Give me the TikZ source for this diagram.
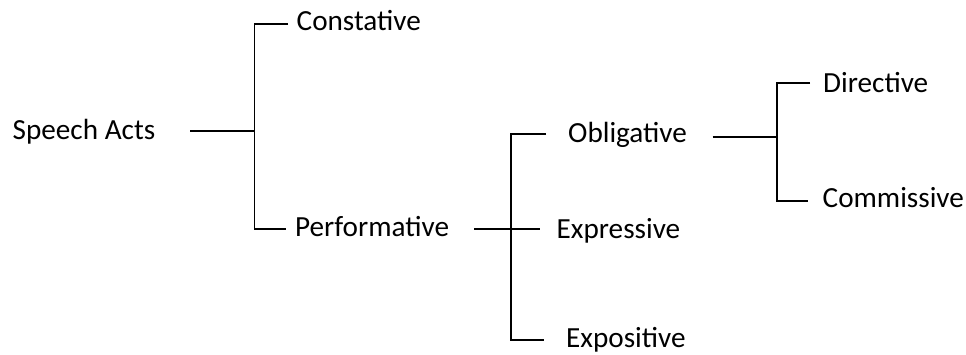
\documentclass[tikz,border=0pt]{standalone}
\usepackage{fontspec}
\setmainfont{Carlito}
\begin{document}
\begin{tikzpicture}[x=1bp,y=-1bp,
  lbl/.style={anchor=base west,inner sep=0pt,font=\fontsize{29.3}{34}\selectfont},
  conn/.style={line width=1.9bp,black}]
\useasboundingbox (0,0) rectangle (966,354);
% labels
\node[lbl] (sa)  at (12.5,139.3) {Speech Acts};
\node[lbl] (con) at (296.5,30.7) {Constative};
\node[lbl] (per) at (295,236.3) {Performative};
\node[lbl] (obl) at (568,142.7) {Obligative};
\node[lbl] (exr) at (556.5,238.3) {Expressive};
\node[lbl] (exo) at (566,347.7) {Expositive};
\node[lbl] (dir) at (823,92.3) {Directive};
\node[lbl] (com) at (822.5,207.3) {Commissive};
% junction coordinates
\coordinate (saR) at (190,130.7);
\coordinate (j1)  at (254.5,130.7);
\coordinate (j1t) at (254.5,24);
\coordinate (j1b) at (254.5,229.3);
\coordinate (conL) at (288,24);
\coordinate (perL) at (286,229.3);
\coordinate (perR) at (474,229.3);
\coordinate (j2)  at (510.7,229.3);
\coordinate (j2t) at (510.7,134.3);
\coordinate (j2b) at (510.7,340);
\coordinate (oblL) at (546,134.3);
\coordinate (exrL) at (540,229.3);
\coordinate (exoL) at (544,340);
\coordinate (oblR) at (712.7,137.3);
\coordinate (j3)  at (777.3,137.3);
\coordinate (j3t) at (777.3,82.7);
\coordinate (j3b) at (777.3,200.7);
\coordinate (dirL) at (810,82.7);
\coordinate (comL) at (808.3,200.7);
% connectors
\draw[conn] (saR) -- (j1);
\draw[conn] (conL) -- (j1t) -- (j1b) -- (perL);
\draw[conn] (perR) -- (exrL);
\draw[conn] (oblL) -- (j2t) -- (j2b) -- (exoL);
\draw[conn] (oblR) -- (j3);
\draw[conn] (dirL) -- (j3t) -- (j3b) -- (comL);
\end{tikzpicture}
\end{document}
